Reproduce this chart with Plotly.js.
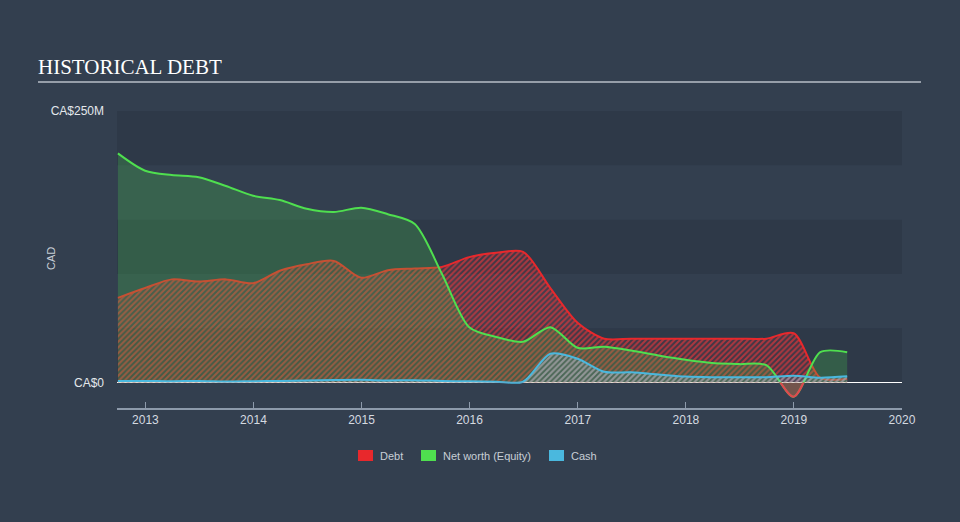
<!DOCTYPE html>
<html>
<head>
<meta charset="utf-8">
<script src="https://cdn.plot.ly/plotly-3.0.1.min.js"></script>
<style>
html,body{margin:0;padding:0;background:#333f4f;}
#chart{width:960px;height:522px;}
</style>
</head>
<body>
<div id="chart"></div>
<script>
// ---- data (CA$ millions), quarterly reporting dates ----
const dates = [
  '2012-09-30','2012-12-31',
  '2013-03-31','2013-06-30','2013-09-30','2013-12-31',
  '2014-03-31','2014-06-30','2014-09-30','2014-12-31',
  '2015-03-31','2015-06-30','2015-09-30','2015-12-31',
  '2016-03-31','2016-06-30','2016-09-30','2016-12-31',
  '2017-03-31','2017-06-30','2017-09-30','2017-12-31',
  '2018-03-31','2018-06-30','2018-09-30','2018-12-31',
  '2019-03-31','2019-06-30'
];
const debt = [78, 87, 95, 93, 95, 91.5, 103, 109, 112, 96.5, 103.5, 105, 106.5, 115.5,
              119.5, 120.4, 87, 55, 40.4, 40.4, 40.4, 40.4, 40.4, 40.4, 40.4, 45.5, 4.5, 3.6];
const netWorth = [211, 195, 191, 189, 181, 172, 168, 160, 157, 161, 155, 146, 100, 51,
                  42, 37.5, 51, 32, 33, 29.5, 25, 21, 18, 17, 16, -13, 28, 28];
const cash = [1.5, 1.5, 1.2, 1.5, 1.0, 1.3, 1.5, 2.0, 2.3, 2.5, 2.0, 2.2, 1.5, 1.2,
              0.8, 0.8, 26.5, 22, 10, 9.4, 7.5, 5.5, 5, 5, 5, 6.4, 4.5, 5.8];
const seriesNames = ['Debt', 'Net worth (Equity)', 'Cash'];
const yTickVals = [0, 250];
const yTickText = ['CA$0', 'CA$250M'];
const yAxisLabel = 'CAD';
const chartTitle = 'HISTORICAL DEBT';

// ---- style ----
const RED = '#e8282c', GREEN = '#4fdf4f', BLUE = '#4ab8de';
const BG = '#333f4f', BAND = '#2e3948';
const Y_MIN = -23.4, Y_MAX = 250;
const L = 117, R = 58, T = 111, B = 114, WIDTH = 960, HEIGHT = 522;
const PW = WIDTH - L - R, PH = HEIGHT - T - B;
const px = x => (x - L) / PW;
const py = y => (HEIGHT - B - y) / PH;
const spline = {shape: 'spline', smoothing: 0.8};

const traces = [
  // debt: hatched fill + line
  {x: dates, y: debt, type: 'scatter', mode: 'lines', name: seriesNames[0],
   line: Object.assign({width: 2, color: RED}, spline),
   fill: 'tozeroy', fillcolor: 'rgba(232,40,44,0.1)',
   fillpattern: {shape: '/', fgcolor: '#e8363c', bgcolor: 'rgba(232,40,44,0.1)', fgopacity: 0.65, size: 4, solidity: 0.5},
   showlegend: false},
  // net worth: translucent green fill drawn over debt
  {x: dates, y: netWorth, type: 'scatter', mode: 'lines', name: seriesNames[1],
   line: Object.assign({width: 2, color: GREEN}, spline),
   fill: 'tozeroy', fillcolor: 'rgba(77,225,77,0.22)', showlegend: false},
  // cash
  {x: dates, y: cash, type: 'scatter', mode: 'lines', name: seriesNames[2],
   line: Object.assign({width: 2, color: BLUE}, spline),
   fill: 'tozeroy', fillcolor: 'rgba(120,190,220,0.12)',
   fillpattern: {shape: '/', fgcolor: '#8cc8de', bgcolor: 'rgba(120,190,220,0.12)', fgopacity: 0.5, size: 4, solidity: 0.5},
   showlegend: false},
  // negative equity shown in red (clipped to the below-zero band via yaxis2)
  {x: dates, y: netWorth, type: 'scatter', mode: 'lines', xaxis: 'x', yaxis: 'y2',
   line: Object.assign({width: 2, color: '#e0474f'}, spline),
   fill: 'tozeroy', fillcolor: 'rgba(225,60,75,0.35)', hoverinfo: 'skip', showlegend: false}
];

const zeroFrac = (0 - Y_MIN) / (Y_MAX - Y_MIN);

const shapes = [
  // background bands
  {type: 'rect', xref: 'paper', x0: 0, x1: 1, yref: 'y', y0: 200, y1: 250, fillcolor: BAND, line: {width: 0}, layer: 'below'},
  {type: 'rect', xref: 'paper', x0: 0, x1: 1, yref: 'y', y0: 100, y1: 150, fillcolor: BAND, line: {width: 0}, layer: 'below'},
  {type: 'rect', xref: 'paper', x0: 0, x1: 1, yref: 'y', y0: 0, y1: 50, fillcolor: BAND, line: {width: 0}, layer: 'below'},
  // title underline
  {type: 'line', xref: 'paper', yref: 'paper', x0: px(38), x1: px(921), y0: py(82), y1: py(82),
   line: {color: '#b9bfc7', width: 1.5}}
];

const annotations = [
  {text: yAxisLabel, xref: 'paper', yref: 'paper', x: px(51), y: py(259), textangle: -90,
   showarrow: false, font: {family: 'Liberation Sans, Arial, sans-serif', size: 11, color: '#c8ced6'},
   xanchor: 'center', yanchor: 'middle'}
];

// manual legend
const legendColors = [RED, GREEN, BLUE];
const legendSquareX = [358, 421, 549];
seriesNames.forEach((n, i) => {
  const x0 = legendSquareX[i];
  shapes.push({type: 'rect', xref: 'paper', yref: 'paper', x0: px(x0), x1: px(x0 + 15),
               y0: py(461), y1: py(450), fillcolor: legendColors[i], line: {width: 0}});
  annotations.push({text: n, xref: 'paper', yref: 'paper', x: px(x0 + 20), y: py(456),
                    xanchor: 'left', yanchor: 'middle', showarrow: false,
                    font: {family: 'Liberation Sans, Arial, sans-serif', size: 11, color: '#c8ced6'}});
});

const layout = {
  width: WIDTH, height: HEIGHT,
  margin: {l: L, r: R, t: T, b: B, pad: 0},
  paper_bgcolor: BG, plot_bgcolor: 'rgba(0,0,0,0)',
  showlegend: false,
  title: {text: chartTitle, xref: 'container', yref: 'container', x: 38 / WIDTH, xanchor: 'left',
          y: 1 - 67 / HEIGHT, yanchor: 'middle',
          font: {family: 'Liberation Serif, Times New Roman, serif', size: 21, color: '#ffffff'}},
  xaxis: {type: 'date', range: ['2012-09-27', '2020-01-01 04:00'], tick0: '2013-01-01', dtick: 'M12',
          tickformat: '%Y', ticks: 'inside', ticklen: 6, tickcolor: '#8d9aab', tickwidth: 1,
          showline: true, linecolor: '#8d9aab', linewidth: 1.5, showgrid: false, zeroline: false,
          tickfont: {family: 'Liberation Sans, Arial, sans-serif', size: 12, color: '#d5dae0'},
          fixedrange: true},
  yaxis: {range: [Y_MIN, Y_MAX], tickvals: yTickVals, ticktext: yTickText, showgrid: false,
          zeroline: true, zerolinecolor: '#ffffff', zerolinewidth: 1.5, showline: false, ticks: '',
          ticklabelstandoff: 12,
          tickfont: {family: 'Liberation Sans, Arial, sans-serif', size: 12, color: '#e4e8ec'},
          fixedrange: true},
  yaxis2: {domain: [0, zeroFrac], range: [Y_MIN, 0], anchor: 'x', visible: false, showgrid: false,
           zeroline: false, fixedrange: true},
  shapes: shapes,
  annotations: annotations
};

Plotly.newPlot('chart', traces, layout, {staticPlot: true, displayModeBar: false});
</script>
</body>
</html>
